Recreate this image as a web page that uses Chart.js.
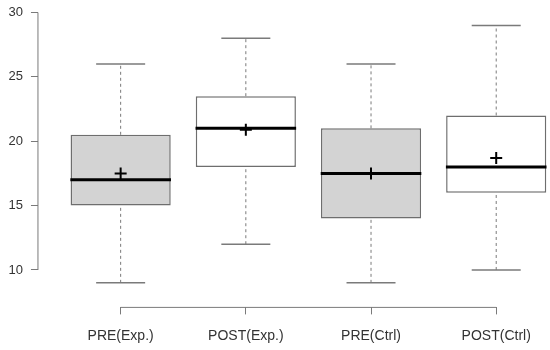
<!DOCTYPE html>
<html>
<head>
<meta charset="utf-8">
<script src="https://cdn.jsdelivr.net/npm/chart.js@4"></script>
<style>
  body { margin: 0; background: #fff; }
  #wrap { width: 550px; height: 350px; }
</style>
</head>
<body>
<div id="wrap"><canvas id="myChart"></canvas></div>
<script>
const groups = ['PRE(Exp.)', 'POST(Exp.)', 'PRE(Ctrl)', 'POST(Ctrl)'];
const mins    = [9, 12, 9, 10];
const q1s     = [15, 18, 14, 16];
const medians = [17, 21, 17.5, 18];
const q3s     = [20.5, 23.5, 21, 22];
const maxs    = [26, 28, 26, 29];
const means   = [17.5, 20.9, 17.5, 18.7];
const yTicks  = [10, 15, 20, 25, 30];

const fills = ['#d3d3d3', '#ffffff', '#d3d3d3', '#ffffff'];
const axisGrey = '#7a7a7a';

const xs = groups.map((g, i) => i + 1);

// whisker segments, broken by nulls
const whiskerPts = [];
xs.forEach((x, i) => {
  whiskerPts.push({x: x, y: mins[i]}, {x: x, y: q1s[i]}, {x: x, y: null});
  whiskerPts.push({x: x, y: q3s[i]}, {x: x, y: maxs[i]}, {x: x, y: null});
});
const capPts = [];
xs.forEach((x, i) => {
  capPts.push({x: x, y: mins[i]}, {x: x, y: maxs[i]});
});

// R style axis lines, only between end ticks
const rAxes = {
  id: 'rAxes',
  afterDraw(chart) {
    const {ctx, chartArea, scales} = chart;
    ctx.save();
    ctx.strokeStyle = axisGrey;
    ctx.lineWidth = 1;
    ctx.beginPath();
    ctx.moveTo(chartArea.left, scales.y.getPixelForValue(yTicks[0]));
    ctx.lineTo(chartArea.left, scales.y.getPixelForValue(yTicks[yTicks.length - 1]));
    ctx.moveTo(scales.x.getPixelForValue(xs[0]), chartArea.bottom);
    ctx.lineTo(scales.x.getPixelForValue(xs[xs.length - 1]), chartArea.bottom);
    ctx.stroke();
    ctx.restore();
  }
};

const ctx = document.getElementById('myChart');

new Chart(ctx, {
  type: 'bar',
  data: {
    datasets: [
      {
        type: 'bar',
        data: xs.map((x, i) => ({x: x, y: [q1s[i], q3s[i]]})),
        backgroundColor: fills,
        borderColor: '#6e6e6e',
        borderWidth: 1.5,
        borderSkipped: false,
        barPercentage: 0.8,
        categoryPercentage: 1,
        order: 5
      },
      {
        type: 'line',
        data: whiskerPts,
        borderColor: axisGrey,
        borderWidth: 1,
        borderDash: [3, 3],
        pointRadius: 0,
        spanGaps: false,
        order: 4
      },
      {
        type: 'scatter',
        data: capPts,
        pointStyle: 'line',
        pointRadius: 24.5,
        borderColor: axisGrey,
        borderWidth: 1.5,
        order: 3
      },
      {
        type: 'scatter',
        data: xs.map((x, i) => ({x: x, y: medians[i]})),
        pointStyle: 'line',
        pointRadius: 50.3,
        borderColor: '#000',
        borderWidth: 3,
        order: 2
      },
      {
        type: 'scatter',
        data: xs.map((x, i) => ({x: x, y: means[i]})),
        pointStyle: 'cross',
        pointRadius: 6,
        borderColor: '#000',
        borderWidth: 2,
        order: 1
      }
    ]
  },
  options: {
    responsive: true,
    maintainAspectRatio: false,
    animation: false,
    layout: { autoPadding: false, padding: { left: 0.5, right: 0, top: 12, bottom: -8.4 } },
    plugins: { legend: { display: false }, tooltip: { enabled: false } },
    scales: {
      x: {
        type: 'linear',
        offset: false,
        min: 0.3395,
        max: 4.4297,
        afterBuildTicks: s => { s.ticks = xs.map(v => ({value: v})); },
        grid: { offset: false, drawOnChartArea: false, drawTicks: true, tickLength: 7, color: axisGrey },
        border: { display: false },
        ticks: {
          callback: v => groups[v - 1],
          font: { family: 'Liberation Sans', size: 14 },
          color: '#333',
          padding: 13.6,
          maxRotation: 0,
          autoSkip: false
        }
      },
      y: {
        min: 7.093,
        max: 30.04,
        afterBuildTicks: s => { s.ticks = yTicks.map(v => ({value: v})); },
        grid: { drawOnChartArea: false, drawTicks: true, tickLength: 7, color: axisGrey },
        border: { display: false },
        ticks: {
          font: { family: 'Liberation Sans', size: 13, lineHeight: 0.5 },
          color: '#333',
          padding: 8
        }
      }
    }
  },
  plugins: [rAxes]
});
</script>
</body>
</html>
